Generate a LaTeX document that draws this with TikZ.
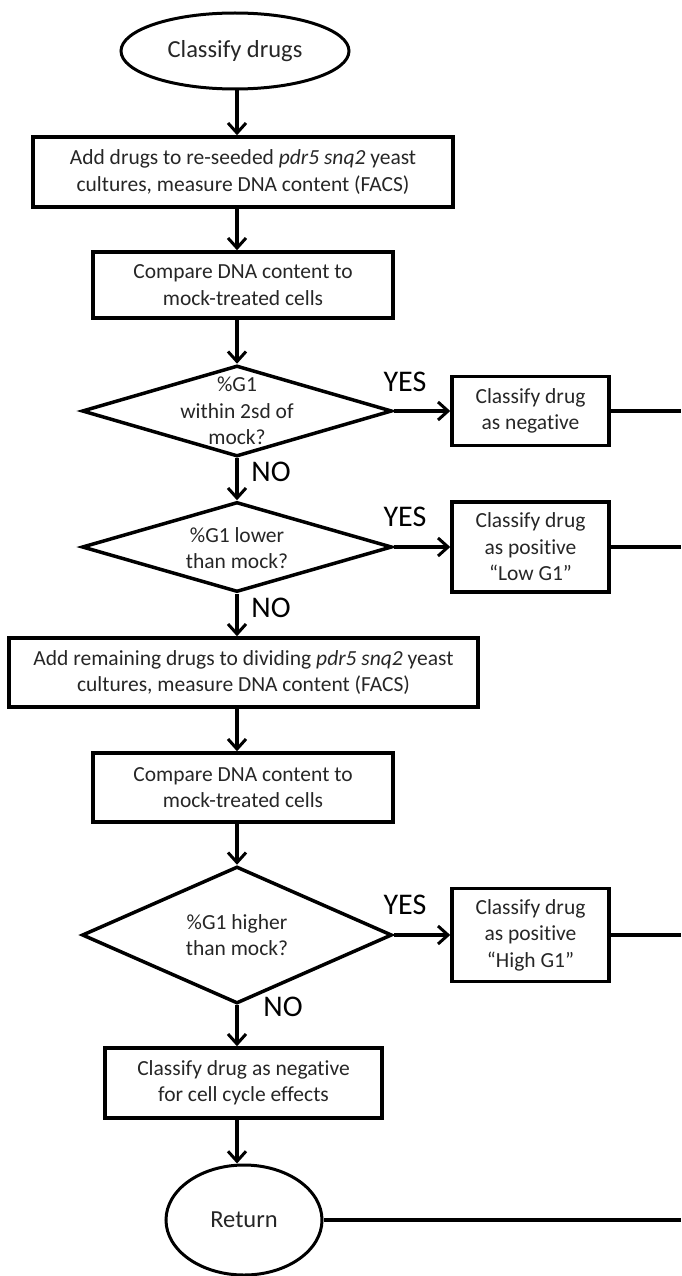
\documentclass[tikz,border=0pt]{standalone}
\usepackage{fontspec}
\setmainfont{Carlito}[Ligatures={NoCommon,NoDiscretionary}]
\usetikzlibrary{shapes.geometric,arrows.meta}
\begin{document}
\begin{tikzpicture}[x=1pt,y=-1pt,
  txt/.style={font=\fontsize{21.5}{26.5}\selectfont,text=black!85,align=center},
  box/.style={txt,draw=black,line width=3.5pt,rectangle,inner sep=0pt},
  dec/.style={draw=black,line width=3.5pt,diamond,inner sep=0pt,minimum width=310pt},
  term/.style={txt,font=\fontsize{24.5}{28}\selectfont,draw=black,line width=3pt,ellipse,inner sep=0pt},
  arr/.style={line width=3.5pt,-{Straight Barb[length=10pt,width=18pt,line width=3pt]}},
  conn/.style={line width=3.5pt},
  lab/.style={font=\fontsize{30}{32}\selectfont,inner sep=0pt}
]
\useasboundingbox (0,0) rectangle (681,1276);

% left column
\node[term,minimum width=228pt,minimum height=76pt] (start) at (235,51) {Classify drugs};
\node[box,minimum width=420pt,minimum height=70pt] (b1) at (243,172)
  {Add drugs to re-seeded \textit{pdr5 snq2} yeast\\cultures, measure DNA content (FACS)};
\node[box,minimum width=300pt,minimum height=66pt] (b2) at (243,285)
  {Compare DNA content to\\mock-treated cells};
\node[dec,minimum height=91pt] (d1) at (237,411) {};
\node[txt,inner sep=0pt] (d1t) at (237,411) {\%G1\\within 2sd of\\mock?};
\node[dec,minimum height=90pt] (d2) at (237,547) {};
\node[txt,inner sep=0pt] (d2t) at (237,548) {\%G1 lower\\than mock?};
\node[box,minimum width=469pt,minimum height=69pt] (b3) at (243.5,672.5)
  {Add remaining drugs to dividing \textit{pdr5 snq2} yeast\\cultures, measure DNA content (FACS)};
\node[box,minimum width=300pt,minimum height=69pt] (b4) at (243,787.5)
  {Compare DNA content to\\mock-treated cells};
\node[dec,minimum height=137pt] (d3) at (237,935) {};
\node[txt,inner sep=0pt] (d3t) at (237,935) {\%G1 higher\\than mock?};
\node[box,minimum width=277pt,minimum height=70pt] (f) at (243.5,1083)
  {Classify drug as negative\\for cell cycle effects};
\node[term,minimum width=156pt,minimum height=110pt] (ret) at (244,1220) {Return};

% right column
\node[box,minimum width=157pt,minimum height=69pt] (r1) at (530.5,411)
  {Classify drug\\as negative};
\node[box,minimum width=157pt,minimum height=90pt] (r2) at (530.5,547)
  {Classify drug\\as positive\\“Low G1”};
\node[box,minimum width=157pt,minimum height=93pt] (r3) at (530.5,935)
  {Classify drug\\as positive\\“High G1”};

\coordinate (e1) at (r1.east -| 681,0);
\coordinate (e2) at (r2.east -| 681,0);
\coordinate (e3) at (r3.east -| 681,0);
\coordinate (e4) at (ret.east -| 681,0);

% vertical arrows
\draw[arr] (d1.north |- start.south) -- (d1.north |- b1.north);
\draw[arr] (d1.north |- b1.south) -- (d1.north |- b2.north);
\draw[arr] (d1.north |- b2.south) -- (d1.north);
\draw[arr] (d1.south) -- (d2.north);
\draw[arr] (d2.south) -- (d2.south |- b3.north);
\draw[arr] (d2.south |- b3.south) -- (d2.south |- b4.north);
\draw[arr] (d2.south |- b4.south) -- (d3.north);
\draw[arr] (d3.south) -- (d3.south |- f.north);
\draw[arr] (d3.south |- f.south) -- (d3.south |- ret.north);

% yes arrows
\draw[arr] (d1.east) -- (r1.west);
\draw[arr] (d2.east) -- (r2.west);
\draw[arr] (d3.east) -- (r3.west);

% exits to the right
\draw[conn] (r1.east) -- (e1);
\draw[conn] (r2.east) -- (e2);
\draw[conn] (r3.east) -- (e3);
\draw[conn] (ret.east) -- (e4);

% labels
\node[lab] (y1) at (405,382) {YES};
\node[lab] (y2) at (405,517) {YES};
\node[lab] (y3) at (405,905) {YES};
\node[lab] (n1) at (271,472) {NO};
\node[lab] (n2) at (271,608) {NO};
\node[lab] (n3) at (283,1007) {NO};
\end{tikzpicture}
\end{document}
